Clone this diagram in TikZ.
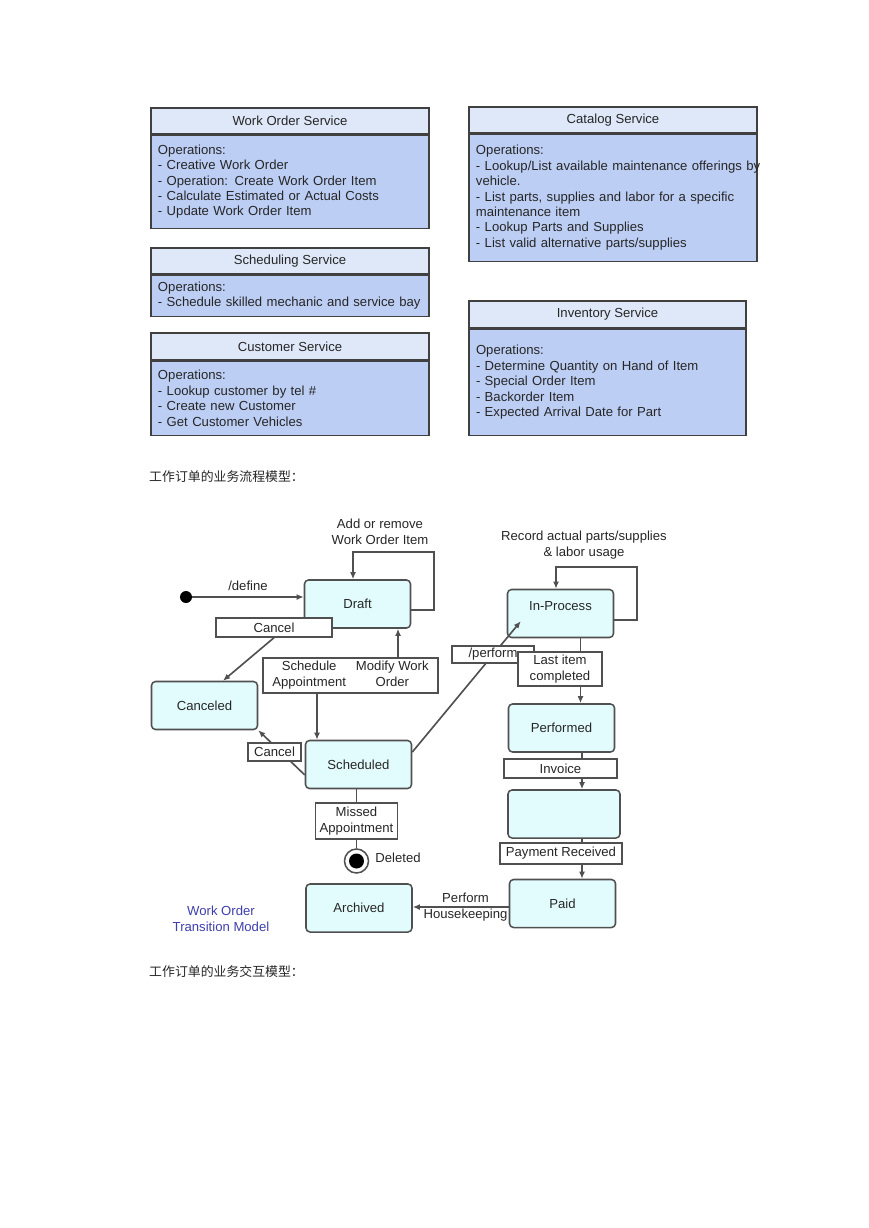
\documentclass[tikz,border=0pt]{standalone}
\usepackage{fontspec}
\setmainfont{Liberation Sans}
\newfontfamily\cjkfont{Noto Sans CJK SC}
\usetikzlibrary{arrows.meta,positioning}
\definecolor{hdrblue}{RGB}{223,232,249}
\definecolor{bodyblue}{RGB}{189,206,244}
\definecolor{stcyan}{RGB}{226,251,252}
\definecolor{edgegray}{RGB}{80,80,80}
\definecolor{titleblue}{RGB}{62,62,172}
\newcommand{\dgmfont}{\fontsize{11.2}{13.2}\selectfont}
\newcommand{\capfont}{\cjkfont\fontsize{11}{12}\selectfont}

\begin{document}
\begin{tikzpicture}[x=0.03cm, y=-0.03cm, >={Latex[length=6pt,width=5pt]},
    every node/.style={font=\dgmfont, text=black!85},
    svchead/.style={draw=black!75, line width=1pt, fill=hdrblue, minimum height=0.78cm},
    svcbody/.style={draw=black!75, line width=1pt, fill=bodyblue, align=left, inner xsep=0.21cm, inner ysep=0pt},
    stbox/.style={draw=edgegray, line width=1.3pt, fill=stcyan, rounded corners=0.12cm, minimum width=3.18cm, minimum height=1.44cm},
    lbl/.style={draw=edgegray, line width=1.2pt, fill=white, inner sep=1pt},
    trans/.style={draw=edgegray, line width=1.4pt},
    initdot/.style={circle, fill=black, inner sep=0pt, minimum size=0.36cm}]

\useasboundingbox (0,0) rectangle (869,1228);

% services, left column
\node[svchead, minimum width=8.34cm] (wos) at (290,121) {Work Order Service};
\node[svcbody, text width=7.92cm, minimum height=2.79cm, below=0pt of wos] (wosops)
  {Operations:\\- Creative Work Order\\- Operation: Create Work Order Item\\- Calculate Estimated or Actual Costs\\- Update Work Order Item};

\node[svchead, minimum width=8.34cm] (sched-svc) at (290,261) {Scheduling Service};
\node[svcbody, text width=7.92cm, minimum height=1.23cm, below=0pt of sched-svc] (schedops)
  {Operations:\\- Schedule skilled mechanic and service bay};

\node[svchead, minimum width=8.34cm, minimum height=0.81cm] (cust) at (290,346.5) {Customer Service};
\node[svcbody, text width=7.92cm, minimum height=2.22cm, below=0pt of cust] (custops)
  {Operations:\\- Lookup customer by tel \#\\- Create new Customer\\- Get Customer Vehicles};

% services, right column
\node[svchead, minimum width=8.64cm] (catalog) at (613,120) {Catalog Service};
\node[svcbody, text width=8.22cm, minimum height=3.81cm, below=0pt of catalog] (catops)
  {Operations:\\\mbox{- Lookup/List available maintenance offerings by}\\vehicle.\\- List parts, supplies and labor for a specific\\maintenance item\\- Lookup Parts and Supplies\\- List valid alternative parts/supplies};

\node[svchead, minimum width=8.31cm, minimum height=0.81cm] (inventory) at (607.5,314.5) {Inventory Service};
\node[svcbody, text width=7.89cm, minimum height=3.18cm, below=0pt of inventory] (invops)
  {Operations:\\- Determine Quantity on Hand of Item\\- Special Order Item\\- Backorder Item\\- Expected Arrival Date for Part};

% captions
\node[anchor=west, font=\capfont, inner sep=0pt] (flowcap) at (149,477) {工作订单的业务流程模型：};
\node[anchor=west, font=\capfont, inner sep=0pt] (intercap) at (149,972) {工作订单的业务交互模型：};

% states
\node[stbox] (draft) at (357.5,604) {Draft};
\node[stbox, text depth=0.45cm] (inproc) at (560.5,613.5) {In-Process};
\node[stbox] (canceled) at (204.5,705.5) {Canceled};
\node[stbox] (sched) at (358.5,764.5) {Scheduled};
\node[stbox] (perf) at (561.5,728) {Performed};
\node[stbox, minimum width=3.36cm] (invoiced) at (564,814) {};
\node[stbox] (paid) at (562.5,903.5) {Paid};
\node[stbox] (archived) at (359,908) {Archived};

% start and end
\node[initdot] (start) at (186,597) {};
\node[circle, draw=edgegray, line width=1.3pt, fill=white, minimum size=0.72cm, inner sep=0pt] (final) at (356.5,861) {};
\node[initdot, minimum size=0.45cm] (finaldot) at (final) {};
\node[right=0.06cm of final, yshift=0.09cm] (deleted) {Deleted};

% transitions
\draw[trans, ->] (start) -- (start -| draft.west) node[midway, above=1pt] (define) {/define};

\draw[trans, ->] ([yshift=-0.18cm]draft.east) -- ++(23,0) -- ++(0,-58) -| ([xshift=-0.135cm]draft.north);
\node[align=center] (addrm) at (380,532) {Add or remove\\Work Order Item};

\draw[trans, ->] ([yshift=-0.195cm]inproc.east) -- ++(23,0) -- ++(0,-53) -| ([xshift=-0.135cm]inproc.north);
\node[align=center] (record) at (584,545) {Record actual parts/supplies\\\& labor usage};

\node[lbl, minimum width=3.48cm, minimum height=0.57cm] (cancela) at (274,627.5) {Cancel};
\draw[trans, ->] (cancela.south) -- ([xshift=0.555cm]canceled.north);

\node[lbl, minimum width=5.25cm, minimum height=1.05cm] (schmod) at (350.5,675.5)
  {\begin{tabular}{@{}c@{\hspace{0.3cm}}c@{}}Schedule & Modify Work\\Appointment & Order\end{tabular}};
\draw[trans, ->] ([xshift=1.425cm]schmod.north) -- ([xshift=1.425cm]schmod.north |- draft.south);
\draw[trans, ->] ([xshift=-1.005cm]schmod.south) -- ([xshift=-1.005cm]schmod.south |- sched.north);

\draw[trans, ->] (sched.191) -- (canceled.south east);
\node[lbl, minimum width=1.59cm, minimum height=0.54cm] (cancelb) at (274.5,752) {Cancel};

\draw[trans, ->] (sched.13) -- ([shift={(0.42cm,0.51cm)}]inproc.south west);
\draw[trans, ->] ([xshift=0.6cm]inproc.south) -- ([xshift=0.6cm]inproc.south |- perf.north);
\node[lbl, minimum width=2.46cm, minimum height=0.51cm] (perform) at (493,654.5) {/perform};
\node[lbl, minimum width=2.52cm, minimum height=1.02cm, align=center] (lastitem) at (560,669) {Last item\\completed};

\draw[trans, ->] ([xshift=0.615cm]perf.south) -- ([xshift=0.615cm]perf.south |- invoiced.north);
\node[lbl, minimum width=3.39cm, minimum height=0.57cm] (invoice) at (560.5,768.5) {Invoice};

\draw[trans, ->] ([xshift=0.54cm]invoiced.south) -- ([xshift=0.54cm]invoiced.south |- paid.north);
\node[lbl, minimum width=3.66cm, minimum height=0.63cm] (payment) at (561,853.5) {Payment Received};

\draw[trans] (sched.south -| final) -- (final);
\node[lbl, minimum width=2.46cm, minimum height=1.08cm, align=center] (missed) at (356.5,821) {Missed\\Appointment};

\draw[trans, ->] ([yshift=-0.105cm]paid.west) -- ([yshift=-0.105cm]paid.west -| archived.east)
  node[pos=0.45, align=center] (housekeep) {Perform\\Housekeeping};

\node[align=center, text=titleblue] (title) at (221,919) {Work Order\\Transition Model};

\end{tikzpicture}
\end{document}
